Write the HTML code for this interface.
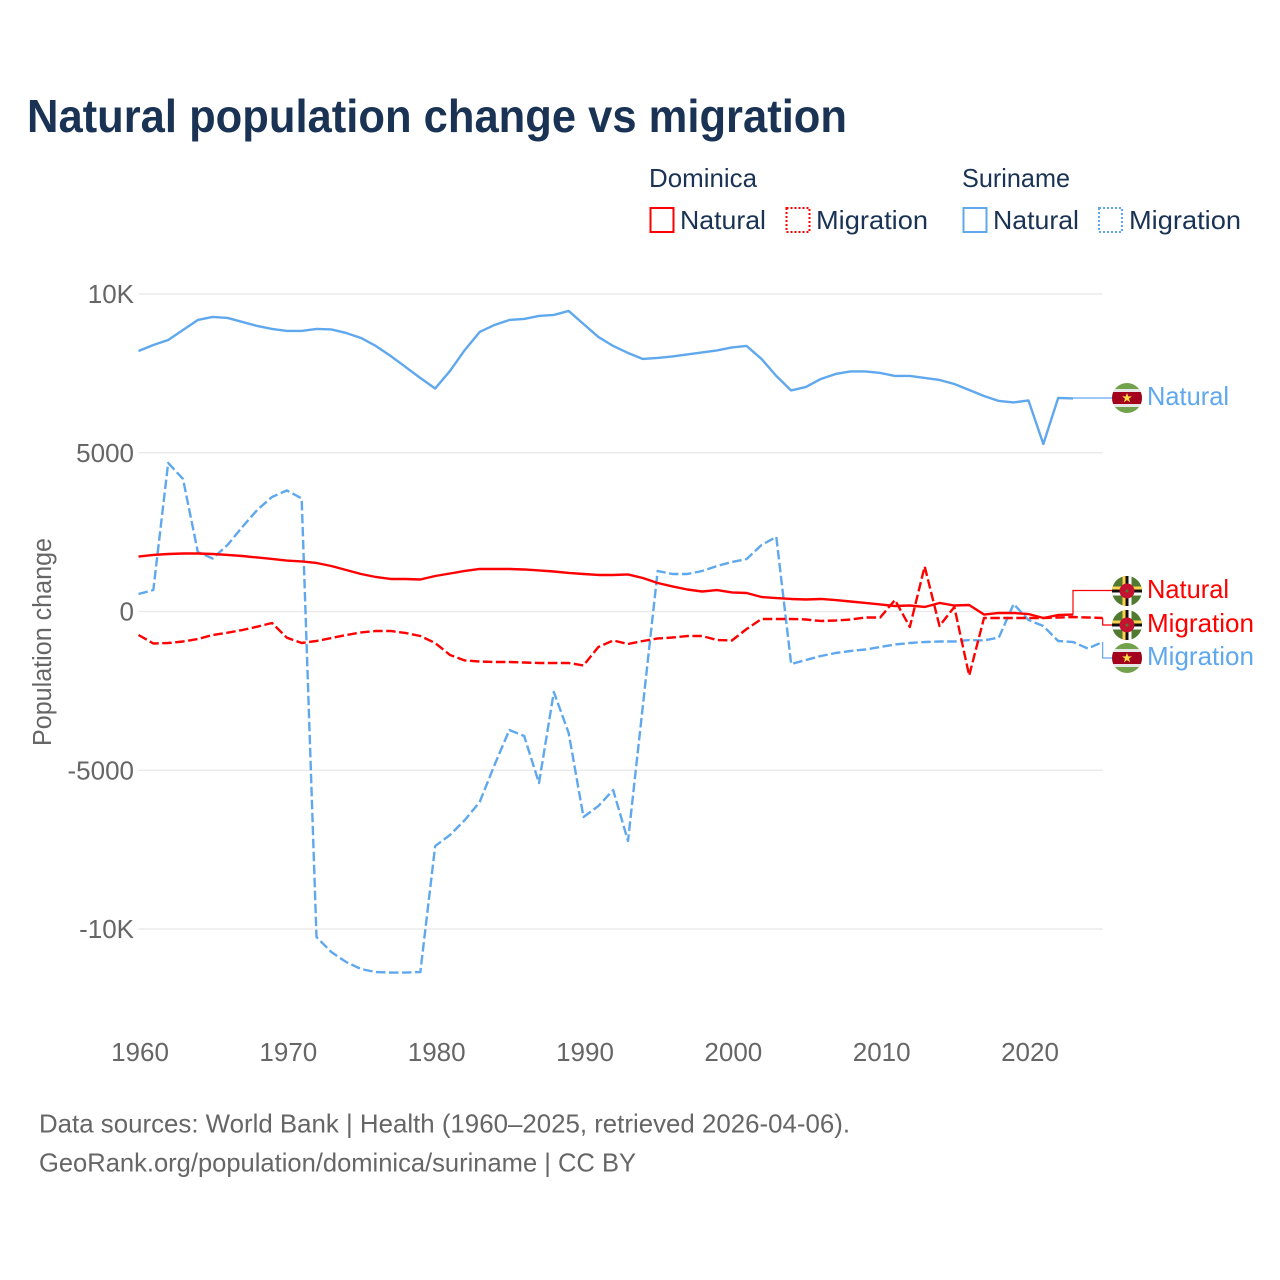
<!DOCTYPE html>
<html lang="en">
<head>
<meta charset="utf-8">
<title>Natural population change vs migration</title>
<style>
html,body{margin:0;padding:0;background:#fff;}
svg{display:block;font-family:"Liberation Sans",sans-serif;}
.tick{font-size:26px;fill:#666;}
.leg{font-size:26px;fill:#1a3354;}
.lab{font-size:26px;}
.src{font-size:26px;fill:#666;}
</style>
</head>
<body>
<svg id="chart" xmlns="http://www.w3.org/2000/svg" width="1280" height="1280" viewBox="0 0 1280 1280">
  <defs>
    <clipPath id="flag-clip"><circle cx="0" cy="0" r="15"/></clipPath>
    <g id="flag-dm">
      <g clip-path="url(#flag-clip)">
        <rect x="-15" y="-15" width="30" height="30" fill="#4f7a2f"/>
        <rect x="-15" y="-4.5" width="30" height="3" fill="#ffd34d"/>
        <rect x="-15" y="-1.5" width="30" height="3" fill="#111"/>
        <rect x="-15" y="1.5" width="30" height="3" fill="#fff"/>
        <rect x="-4.5" y="-15" width="3" height="30" fill="#ffd34d"/>
        <rect x="-1.5" y="-15" width="3" height="30" fill="#111"/>
        <rect x="1.5" y="-15" width="3" height="30" fill="#fff"/>
        <circle r="7.5" fill="#c41230"/>
        <circle r="1.5" fill="#4f7a2f"/>
      </g>
    </g>
    <g id="flag-sr">
      <g clip-path="url(#flag-clip)">
        <rect x="-15" y="-15" width="30" height="30" fill="#72a34c"/>
        <rect x="-15" y="-9" width="30" height="18" fill="#e6e6e6"/>
        <rect x="-15" y="-6" width="30" height="12" fill="#a2001d"/>
        <polygon points="0,-5 1.3,-1.6 5,-1.6 2,0.6 3.1,4.2 0,2.1 -3.1,4.2 -2,0.6 -5,-1.6 -1.3,-1.6" fill="#ffda44"/>
      </g>
    </g>
  </defs>

  <text x="27" y="132" font-size="46" font-weight="700" fill="#1a3354" textLength="820" lengthAdjust="spacingAndGlyphs">Natural population change vs migration</text>

  <g>
    <text class="leg" x="649" y="187" textLength="108" lengthAdjust="spacingAndGlyphs">Dominica</text>
    <text class="leg" x="962" y="187" textLength="108" lengthAdjust="spacingAndGlyphs">Suriname</text>
    <rect x="650.5" y="208" width="23" height="24" fill="none" stroke="#ff0000" stroke-width="2"/>
    <text class="leg" x="680" y="229" textLength="86" lengthAdjust="spacingAndGlyphs">Natural</text>
    <rect x="786.5" y="208" width="23" height="24" fill="none" stroke="#ff0000" stroke-width="2" stroke-dasharray="2 2"/>
    <text class="leg" x="816" y="229" textLength="112" lengthAdjust="spacingAndGlyphs">Migration</text>
    <rect x="963.5" y="208" width="23" height="24" fill="none" stroke="#5fa8ee" stroke-width="2"/>
    <text class="leg" x="993" y="229" textLength="86" lengthAdjust="spacingAndGlyphs">Natural</text>
    <rect x="1099" y="208" width="23" height="24" fill="none" stroke="#5fa8ee" stroke-width="2" stroke-dasharray="2 2"/>
    <text class="leg" x="1129" y="229" textLength="112" lengthAdjust="spacingAndGlyphs">Migration</text>
  </g>

  <g id="grid"></g>
  <g id="yticks"></g>
  <g id="xticks"></g>
  <text transform="translate(51,642) rotate(-90)" text-anchor="middle" font-size="25.5" fill="#666" textLength="208" lengthAdjust="spacingAndGlyphs">Population change</text>

  <g id="leaders"></g>
  <g id="series"></g>

  <g>
    <use href="#flag-sr" x="1127" y="398"/>
    <text class="lab" x="1147" y="405" fill="#5fa8ee" textLength="82" lengthAdjust="spacingAndGlyphs">Natural</text>
    <use href="#flag-dm" x="1127" y="591"/>
    <text class="lab" x="1147" y="598" fill="#ff0000" textLength="82" lengthAdjust="spacingAndGlyphs">Natural</text>
    <use href="#flag-dm" x="1127" y="625"/>
    <text class="lab" x="1147" y="632" fill="#ff0000" textLength="107" lengthAdjust="spacingAndGlyphs">Migration</text>
    <use href="#flag-sr" x="1127" y="658"/>
    <text class="lab" x="1147" y="665" fill="#5fa8ee" textLength="107" lengthAdjust="spacingAndGlyphs">Migration</text>
  </g>

  <text class="src" x="39" y="1132.5" textLength="811" lengthAdjust="spacingAndGlyphs">Data sources: World Bank | Health (1960–2025, retrieved 2026-04-06).</text>
  <text class="src" x="39" y="1171.5" textLength="597" lengthAdjust="spacingAndGlyphs">GeoRank.org/population/dominica/suriname | CC BY</text>
</svg>
<script>
const startYear = 1960;
const yTickValues = [10000, 5000, 0, -5000, -10000];
const yTickLabels = ["10K", "5000", "0", "-5000", "-10K"];
const xTickValues = [1960, 1970, 1980, 1990, 2000, 2010, 2020];
const xTickLabels = ["1960", "1970", "1980", "1990", "2000", "2010", "2020"];

const surinameNatural = [8206,8395,8552,8867,9182,9277,9245,9119,8993,8899,8836,8836,8899,8883,8773,8615,8363,8048,7702,7355,7025,7576,8237,8804,9025,9182,9214,9308,9340,9466,9056,8647,8363,8143,7954,7985,8033,8096,8159,8222,8316,8363,7954,7418,6962,7072,7324,7481,7560,7560,7513,7418,7418,7355,7292,7166,6977,6788,6631,6584,6647,5276,6725,6710];
const surinameMigration = [551,677,4678,4174,1874,1670,2095,2662,3197,3607,3812,3560,-10253,-10726,-11041,-11261,-11356,-11372,-11372,-11356,-7387,-7040,-6568,-6001,-4835,-3733,-3922,-5402,-2536,-3827,-6473,-6127,-5623,-7229,-2977,1276,1181,1181,1276,1433,1559,1654,2095,2347,-1654,-1528,-1402,-1307,-1244,-1197,-1118,-1040,-992,-961,-945,-945,-898,-914,-819,236,-268,-457,-929,-961,-1166,-961];
const dominicaNatural = [1732,1780,1811,1827,1827,1811,1780,1748,1701,1654,1606,1575,1528,1433,1307,1181,1087,1024,1024,1008,1118,1197,1276,1339,1339,1339,1323,1292,1260,1213,1181,1150,1150,1166,1055,898,788,693,630,677,599,583,457,425,394,378,394,362,315,268,221,173,189,142,268,189,205,-95,-47,-47,-79,-205,-110,-95];
const dominicaMigration = [-740,-1008,-992,-945,-866,-740,-669,-583,-479,-362,-825,-992,-929,-835,-740,-661,-614,-614,-677,-772,-992,-1370,-1543,-1575,-1591,-1591,-1606,-1622,-1622,-1622,-1701,-1118,-913,-1024,-929,-850,-819,-772,-772,-898,-913,-551,-236,-236,-236,-252,-299,-283,-252,-189,-189,362,-488,1420,-457,142,-2016,-205,-205,-205,-205,-205,-189,-173,-189,-205];

const RED = "#ff0000";
const BLUE = "#5fa8ee";
const SVGNS = "http://www.w3.org/2000/svg";

function xScale(year) { return 138.5 + (year - 1960) * (1029 - 139) / 60; }
function yScale(v) { return 611.5 - v * (611.5 - 294) / 10000; }

const grid = document.getElementById("grid");
const yticks = document.getElementById("yticks");
yTickValues.forEach(function (v, i) {
  const ln = document.createElementNS(SVGNS, "line");
  
  
  ln.setAttribute("x1", xScale(1960));
  ln.setAttribute("x2", xScale(2025));
  ln.setAttribute("y1", yScale(v));
  ln.setAttribute("y2", yScale(v));
  ln.setAttribute("stroke", "#e8e8e8");
  ln.setAttribute("stroke-width", "1.2");
  grid.appendChild(ln);
  const t = document.createElementNS(SVGNS, "text");
  
  
  t.setAttribute("class", "tick");
  t.setAttribute("x", 134);
  t.setAttribute("y", yScale(v) + 9);
  t.setAttribute("text-anchor", "end");
  t.textContent = yTickLabels[i];
  yticks.appendChild(t);
});

const xticks = document.getElementById("xticks");
xTickValues.forEach(function (yr, i) {
  const t = document.createElementNS(SVGNS, "text");
  
  
  t.setAttribute("class", "tick");
  t.setAttribute("x", xScale(yr) + 1.5);
  t.setAttribute("y", 1061);
  t.setAttribute("text-anchor", "middle");
  t.textContent = xTickLabels[i];
  xticks.appendChild(t);
});

function linePath(values) {
  return values.map(function (v, i) {
    return (i ? "L" : "M") + xScale(startYear + i).toFixed(2) + " " + yScale(v).toFixed(2);
  }).join(" ");
}

const seriesG = document.getElementById("series");
const leadersG = document.getElementById("leaders");

function drawSeries(values, color, dashed, name) {
  const p = document.createElementNS(SVGNS, "path");
  
  
  p.setAttribute("d", linePath(values));
  p.setAttribute("fill", "none");
  p.setAttribute("stroke", color);
  p.setAttribute("stroke-width", "2.4");
  p.setAttribute("stroke-linejoin", "round");
  if (dashed) p.setAttribute("stroke-dasharray", "9.5 3.5");
  seriesG.appendChild(p);
}

function drawLeader(values, color, labelY, name) {
  const endX = xScale(startYear + values.length - 1);
  const endY = yScale(values[values.length - 1]);
  const p = document.createElementNS(SVGNS, "path");
  
  
  p.setAttribute("d", "M" + endX + " " + endY + " V" + labelY + " H1112");
  p.setAttribute("fill", "none");
  p.setAttribute("stroke", color);
  p.setAttribute("stroke-width", "1.2");
  leadersG.appendChild(p);
}

drawLeader(surinameNatural, BLUE, 398, "leader-suriname-natural");
drawLeader(dominicaNatural, RED, 590.5, "leader-dominica-natural");
drawLeader(dominicaMigration, RED, 625, "leader-dominica-migration");
drawLeader(surinameMigration, BLUE, 658, "leader-suriname-migration");

drawSeries(surinameMigration, BLUE, true, "line-suriname-migration");
drawSeries(surinameNatural, BLUE, false, "line-suriname-natural");
drawSeries(dominicaMigration, RED, true, "line-dominica-migration");
drawSeries(dominicaNatural, RED, false, "line-dominica-natural");
</script>
</body>
</html>
